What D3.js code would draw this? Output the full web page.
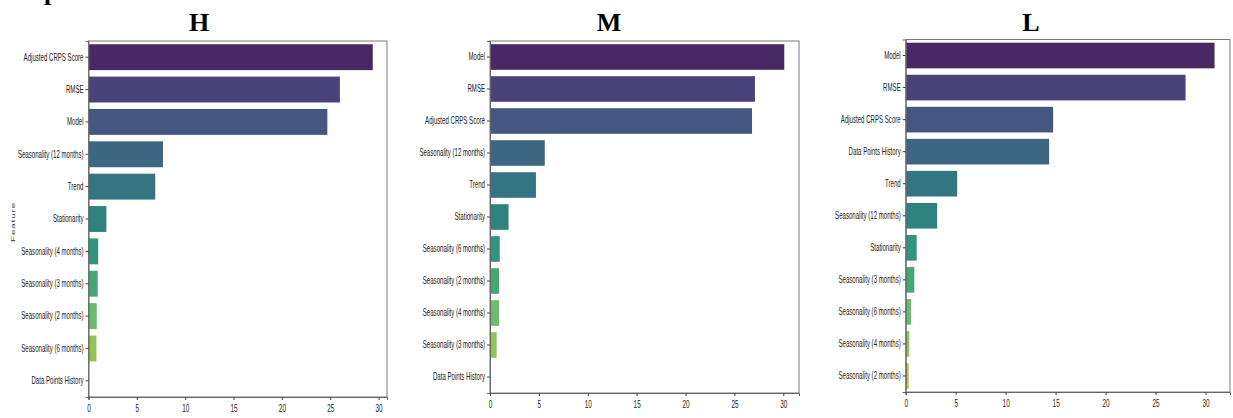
<!DOCTYPE html>
<html>
<head>
<meta charset="utf-8">
<script src="https://cdn.jsdelivr.net/npm/d3@7"></script>
<style>
  html, body { margin: 0; padding: 0; background: #fff; }
  svg { display: block; }
</style>
</head>
<body>
<svg id="chart" width="1233" height="418"></svg>
<script>
// Feature importance per horizon group (H / M / L)
const hCategories = ["Adjusted CRPS Score", "RMSE", "Model", "Seasonality (12 months)", "Trend",
  "Stationarity", "Seasonality (4 months)", "Seasonality (3 months)", "Seasonality (2 months)",
  "Seasonality (6 months)", "Data Points History"];
const hValues = [29.4, 26.0, 24.7, 7.7, 6.9, 1.85, 1.0, 0.95, 0.85, 0.82, 0];

const mCategories = ["Model", "RMSE", "Adjusted CRPS Score", "Seasonality (12 months)", "Trend",
  "Stationarity", "Seasonality (6 months)", "Seasonality (2 months)", "Seasonality (4 months)",
  "Seasonality (3 months)", "Data Points History"];
const mValues = [30.1, 27.1, 26.8, 5.6, 4.7, 1.9, 1.0, 0.92, 0.92, 0.68, 0];

const lCategories = ["Model", "RMSE", "Adjusted CRPS Score", "Data Points History", "Trend",
  "Seasonality (12 months)", "Stationarity", "Seasonality (3 months)", "Seasonality (6 months)",
  "Seasonality (4 months)", "Seasonality (2 months)"];
const lValues = [30.9, 28.0, 14.75, 14.35, 5.15, 3.15, 1.1, 0.86, 0.53, 0.36, 0.3];

const xTicks = [0, 5, 10, 15, 20, 25, 30];
const panelTitles = ["H", "M", "L"];

// Panel layout (pixel boxes of each axes frame)
const panels = [
  { title: panelTitles[0], cats: hCategories, vals: hValues, x0: 88.5, x1: 387, y0: 41, y1: 397, titleX: 199, ylabel: "Feature" },
  { title: panelTitles[1], cats: mCategories, vals: mValues, x0: 490, x1: 799, y0: 41, y1: 393, titleX: 609 },
  { title: panelTitles[2], cats: lCategories, vals: lValues, x0: 905.7, x1: 1230, y0: 39.5, y1: 392, titleX: 1031 }
];

// Muted viridis palette (seaborn-style: n+2 samples, ends dropped, saturation * 0.75)
function palette(n) {
  return d3.range(n).map(i => {
    const c = d3.hsl(d3.interpolateViridis((i + 1) / (n + 1)));
    c.s *= 0.75;
    return c.formatHex();
  });
}

const svg = d3.select("#chart");
const SQ = 0.58; // horizontal squeeze of the small axis text

// Clipped serif glyph at the top-left edge
svg.append("text")
  .attr("x", 44).attr("y", 0)
  .attr("font-family", "Liberation Serif, Times New Roman, serif")
  .attr("font-weight", "bold")
  .attr("font-size", 26)
  .attr("fill", "#000")
  .text("p");

panels.forEach(p => {
  const g = svg.append("g");
  const x = d3.scaleLinear().domain([0, d3.max(p.vals) * 1.05]).range([p.x0, p.x1]);
  const y = d3.scaleBand().domain(p.cats).range([p.y0, p.y1]).paddingInner(0.2).paddingOuter(0.1);
  const colors = palette(p.cats.length);

  // bars
  g.selectAll("rect.bar")
    .data(p.cats.map((c, i) => ({ c, v: p.vals[i], i })))
    .join("rect")
    .attr("class", "bar")
    .attr("x", x(0))
    .attr("y", d => y(d.c))
    .attr("width", d => x(d.v) - x(0))
    .attr("height", y.bandwidth())
    .attr("fill", d => colors[d.i]);

  // frame
  g.append("rect")
    .attr("x", p.x0).attr("y", p.y0)
    .attr("width", p.x1 - p.x0).attr("height", p.y1 - p.y0)
    .attr("fill", "none").attr("stroke", "#7a7a7a").attr("stroke-width", 1);

  // y axis
  const ya = g.append("g")
    .attr("transform", `translate(${p.x0},0)`)
    .call(d3.axisLeft(y).tickSize(3).tickPadding(2));
  ya.select(".domain").attr("stroke", "#666");
  ya.selectAll(".tick line").attr("stroke", "#444");
  ya.selectAll(".tick text")
    .attr("font-family", "Liberation Sans, Arial, sans-serif")
    .attr("font-size", 10.5)
    .attr("fill", "#222")
    .attr("x", -5 / SQ)
    .attr("transform", `scale(${SQ},1)`);

  // x axis
  const xa = g.append("g")
    .attr("transform", `translate(0,${p.y1})`)
    .call(d3.axisBottom(x).tickValues(xTicks).tickSize(3).tickPadding(4));
  xa.select(".domain").attr("stroke", "#666");
  xa.selectAll(".tick line").attr("stroke", "#444");
  xa.selectAll(".tick text")
    .attr("font-family", "Liberation Sans, Arial, sans-serif")
    .attr("font-size", 11)
    .attr("fill", "#222")
    .attr("transform", `scale(${SQ},1)`);

  // title
  svg.append("text")
    .attr("x", p.titleX).attr("y", 31)
    .attr("text-anchor", "middle")
    .attr("font-family", "Liberation Serif, Times New Roman, serif")
    .attr("font-weight", "bold")
    .attr("font-size", 26)
    .attr("fill", "#000")
    .text(p.title);

  if (p.ylabel) {
    svg.append("text")
      .attr("transform", `translate(13,${(p.y0 + p.y1) / 2 + 3}) scale(${SQ},1) rotate(-90)`)
      .attr("text-anchor", "middle")
      .attr("dy", "0.35em")
      .attr("font-family", "Liberation Sans, Arial, sans-serif")
      .attr("font-size", 10)
      .attr("letter-spacing", 0.8)
      .attr("fill", "#333")
      .text(p.ylabel);
  }
});
</script>
</body>
</html>
